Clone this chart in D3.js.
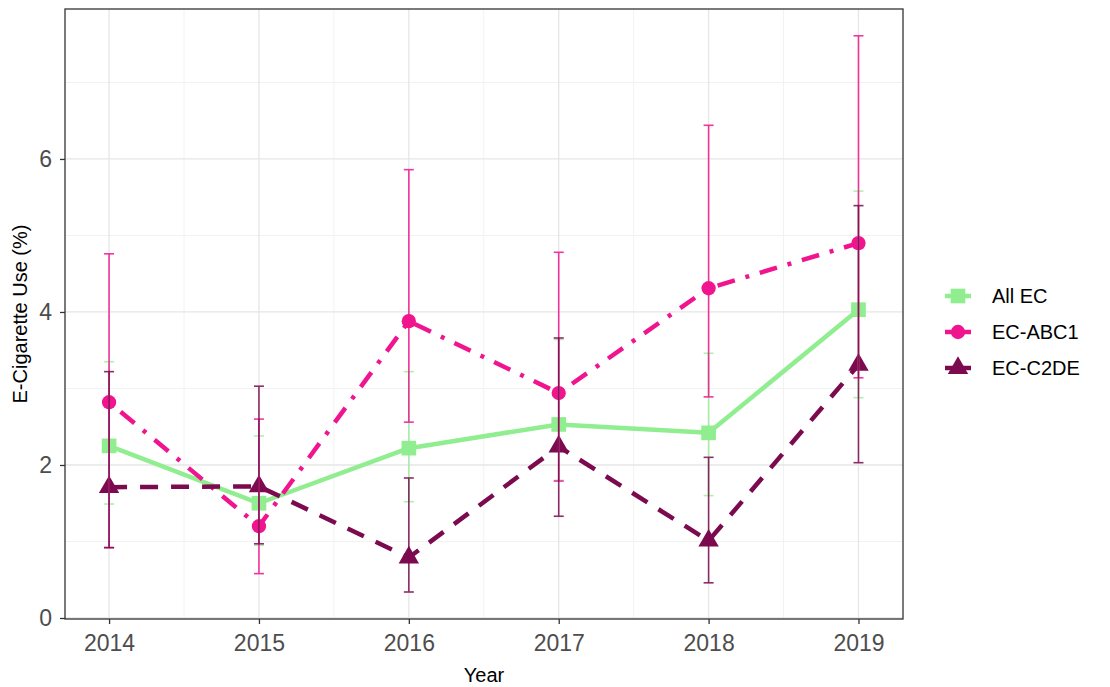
<!DOCTYPE html>
<html>
<head>
<meta charset="utf-8">
<script src="https://cdn.jsdelivr.net/npm/d3@7"></script>
<style>
  html, body { margin: 0; padding: 0; background: #fff; }
  svg { display: block; font-family: "Liberation Sans", Arial, sans-serif; }
</style>
</head>
<body>
<svg id="chart" width="1110" height="687"></svg>
<script>
// ---- data ----
const years = [2014, 2015, 2016, 2017, 2018, 2019];
const seriesNames = ["All EC", "EC-ABC1", "EC-C2DE"];

const allEC    = [2.25, 1.50, 2.22, 2.53, 2.42, 4.03];
const allEC_lo = [1.49, 0.95, 1.52, 1.80, 1.60, 2.88];
const allEC_hi = [3.35, 2.38, 3.22, 3.64, 3.46, 5.58];

const abc1     = [2.82, 1.20, 3.88, 2.94, 4.31, 4.90];
const abc1_lo  = [0.92, 0.58, 2.56, 1.79, 2.89, 3.14];
const abc1_hi  = [4.76, 2.60, 5.86, 4.78, 6.44, 7.61];

const c2de     = [1.71, 1.72, 0.79, 2.24, 1.01, 3.31];
const c2de_lo  = [0.92, 0.97, 0.34, 1.33, 0.46, 2.03];
const c2de_hi  = [3.22, 3.03, 1.83, 3.66, 2.10, 5.39];

const yTicks = [0, 2, 4, 6];
const yMinor = [1, 3, 5, 7];
const xTickLabels = ["2014", "2015", "2016", "2017", "2018", "2019"];

// ---- styling ----
const colors = { "All EC": "#90ee90", "EC-ABC1": "#f0158f", "EC-C2DE": "#7b0a4f" };
const dashes = { "All EC": null, "EC-ABC1": "4,11,18,11", "EC-C2DE": "18,13" };
const shapes = { "All EC": d3.symbolSquare, "EC-ABC1": d3.symbolCircle, "EC-C2DE": d3.symbolTriangle };
const shapeSize = { "All EC": 215, "EC-ABC1": 160, "EC-C2DE": 180 };

const series = [
  { name: "All EC",  v: allEC, lo: allEC_lo, hi: allEC_hi },
  { name: "EC-ABC1", v: abc1,  lo: abc1_lo,  hi: abc1_hi },
  { name: "EC-C2DE", v: c2de,  lo: c2de_lo,  hi: c2de_hi }
];

const panel = { left: 65, right: 903, top: 9, bottom: 619 };
const svg = d3.select("#chart");

const x = d3.scaleLinear().domain([2013.706, 2019.297]).range([panel.left, panel.right]);
const y = d3.scaleLinear().domain([-0.013, 7.96]).range([panel.bottom, panel.top]);

const g = svg.append("g");

g.append("rect").attr("x", panel.left).attr("y", panel.top)
  .attr("width", panel.right - panel.left).attr("height", panel.bottom - panel.top)
  .attr("fill", "#fff");

// minor grid
const halfYears = years.slice(0, -1).map(d => d + 0.5);
g.selectAll(".gyminor").data(yMinor).join("line")
  .attr("x1", panel.left).attr("x2", panel.right)
  .attr("y1", d => y(d)).attr("y2", d => y(d))
  .attr("stroke", "#f2f2f2").attr("stroke-width", 1);
g.selectAll(".gxminor").data(halfYears).join("line")
  .attr("y1", panel.top).attr("y2", panel.bottom)
  .attr("x1", d => x(d)).attr("x2", d => x(d))
  .attr("stroke", "#f2f2f2").attr("stroke-width", 1);
// major grid
g.selectAll(".gymajor").data(yTicks).join("line")
  .attr("x1", panel.left).attr("x2", panel.right)
  .attr("y1", d => y(d)).attr("y2", d => y(d))
  .attr("stroke", "#e6e6e6").attr("stroke-width", 1.3);
g.selectAll(".gxmajor").data(years).join("line")
  .attr("y1", panel.top).attr("y2", panel.bottom)
  .attr("x1", d => x(d)).attr("x2", d => x(d))
  .attr("stroke", "#e6e6e6").attr("stroke-width", 1.3);

// lines
const line = d3.line().x((d, i) => x(years[i])).y(d => y(d));
series.forEach(s => {
  g.append("path").datum(s.v)
    .attr("d", line)
    .attr("fill", "none")
    .attr("stroke", colors[s.name])
    .attr("stroke-width", 4.5)
    .attr("stroke-dasharray", dashes[s.name])
    .attr("stroke-linejoin", "round");
});

// points
series.forEach(s => {
  g.selectAll(null).data(s.v).join("path")
    .attr("transform", (d, i) => `translate(${x(years[i])},${y(d)})`)
    .attr("d", d3.symbol().type(shapes[s.name]).size(shapeSize[s.name]))
    .attr("fill", colors[s.name]);
});

// error bars
const capW = 5;
series.forEach(s => {
  const eg = g.append("g").attr("stroke", colors[s.name]).attr("stroke-width", 1.6)
    .attr("opacity", s.name === "All EC" ? 0.75 : 0.85);
  years.forEach((yr, i) => {
    const cx = x(yr);
    eg.append("line").attr("x1", cx).attr("x2", cx).attr("y1", y(s.lo[i])).attr("y2", y(s.hi[i]));
    eg.append("line").attr("x1", cx - capW).attr("x2", cx + capW).attr("y1", y(s.lo[i])).attr("y2", y(s.lo[i]));
    eg.append("line").attr("x1", cx - capW).attr("x2", cx + capW).attr("y1", y(s.hi[i])).attr("y2", y(s.hi[i]));
  });
});

// panel border
g.append("rect").attr("x", panel.left).attr("y", panel.top)
  .attr("width", panel.right - panel.left).attr("height", panel.bottom - panel.top)
  .attr("fill", "none").attr("stroke", "#333").attr("stroke-width", 1.3);

// axes
const xAxis = d3.axisBottom(x).tickValues(years).tickFormat((d, i) => xTickLabels[i]).tickSize(5).tickPadding(11);
const yAxis = d3.axisLeft(y).tickValues(yTicks).tickFormat(d3.format("d")).tickSize(5).tickPadding(8);

const xa = svg.append("g").attr("transform", `translate(0,${panel.bottom})`).call(xAxis);
const ya = svg.append("g").attr("transform", `translate(${panel.left},0)`).call(yAxis);
[xa, ya].forEach(a => {
  a.select(".domain").remove();
  a.selectAll(".tick line").attr("stroke", "#333").attr("stroke-width", 1.3);
  a.selectAll(".tick text").attr("fill", "#4d4d4d").style("font-size", "23px");
});

// axis titles
svg.append("text").attr("x", (panel.left + panel.right) / 2).attr("y", 682)
  .attr("text-anchor", "middle").style("font-size", "20px").attr("fill", "#000").text("Year");
svg.append("text")
  .attr("transform", `translate(27,${(panel.top + panel.bottom) / 2}) rotate(-90)`)
  .attr("text-anchor", "middle").style("font-size", "20px").attr("fill", "#000")
  .text("E-Cigarette Use (%)");

// legend
const legend = svg.append("g");
const legY0 = 296, legDy = 36, keyX = 958;
series.forEach((s, i) => {
  const ly = legY0 + i * legDy;
  legend.append("line").attr("x1", keyX - 13).attr("x2", keyX + 13)
    .attr("y1", ly).attr("y2", ly)
    .attr("stroke", colors[s.name]).attr("stroke-width", 4.5);
  legend.append("path").attr("transform", `translate(${keyX},${ly})`)
    .attr("d", d3.symbol().type(shapes[s.name]).size(shapeSize[s.name]))
    .attr("fill", colors[s.name]);
  legend.append("text").attr("x", 992).attr("y", ly).attr("dy", "0.36em")
    .style("font-size", "20px").attr("fill", "#000").text(s.name);
});
</script>
</body>
</html>
